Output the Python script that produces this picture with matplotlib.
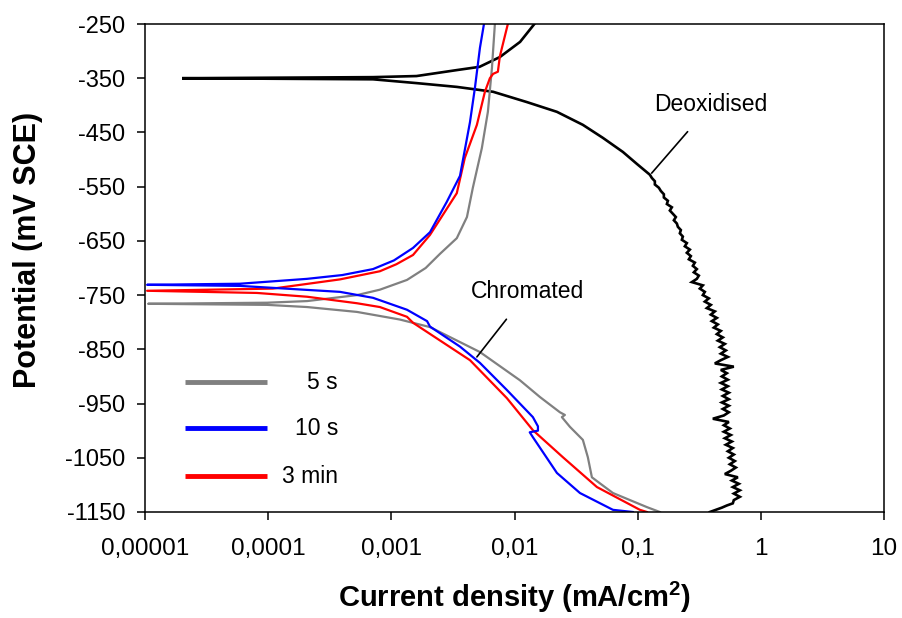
import matplotlib
matplotlib.use("Agg")
import matplotlib.pyplot as plt

plt.rcParams['font.family'] = ['Liberation Sans', 'DejaVu Sans']
plt.rcParams['mathtext.fontset'] = 'custom'
plt.rcParams['mathtext.rm'] = 'Liberation Sans'
plt.rcParams['mathtext.bf'] = 'Liberation Sans:bold'
plt.rcParams['axes.unicode_minus'] = False

# ---------------- data (current density mA/cm2, potential mV SCE) ----------------
# Deoxidised (black): anodic branch top -> corrosion tip -> cathodic branch
deox_current = [0.0145, 0.0111, 0.0076, 0.0052, 0.0034, 0.0016, 0.00071, 0.00002,
                0.00071, 0.0016, 0.0034, 0.0067, 0.0126, 0.0221, 0.0359, 0.0522, 0.0759,
                0.0985, 0.1256,
                0.1304, 0.1379, 0.1379, 0.1486, 0.1543, 0.1632, 0.1632, 0.1759, 0.1726,
                0.1895, 0.1825, 0.1931, 0.2042, 0.1967, 0.2081, 0.2120, 0.2242, 0.2200,
                0.2327, 0.2284, 0.2508, 0.2416, 0.2652, 0.2508, 0.2703, 0.2604, 0.2912,
                0.2806, 0.3023, 0.2858, 0.3138,
                0.3023, 0.2754, 0.3382, 0.3197, 0.3510, 0.3382, 0.3783, 0.3510, 0.3927,
                0.3644, 0.4232, 0.3927, 0.4393, 0.4001, 0.4476, 0.4154, 0.4734, 0.4393,
                0.4914, 0.4476, 0.5102, 0.4646, 0.5198, 0.4734, 0.5396, 0.4734, 0.4232,
                0.6036, 0.4734, 0.5296, 0.4823, 0.5396, 0.4734, 0.5396, 0.4823, 0.5498,
                0.4914, 0.5498, 0.4823, 0.5498, 0.4914, 0.5498, 0.5007, 0.4077, 0.5498,
                0.5007, 0.5601, 0.5007, 0.5707, 0.5102, 0.5815, 0.5198, 0.5924, 0.5396,
                0.6036, 0.5498, 0.6150, 0.5601, 0.6266, 0.5707, 0.5102, 0.6505, 0.5815,
                0.6628, 0.5924, 0.6753, 0.6036, 0.6753, 0.6036, 0.5924, 0.5296, 0.4823,
                0.4312, 0.3855]
deox_potential = [-250, -283, -311, -329, -335, -346, -348, -350,
                  -352, -359, -366, -375, -394, -412, -436, -460, -486,
                  -508, -528,
                  -534, -540, -546, -552, -558, -564, -570, -576, -582,
                  -588, -594, -600, -606, -612, -618, -624, -630, -636,
                  -642, -648, -654, -660, -666, -672, -678, -684, -690,
                  -696, -702, -708, -714,
                  -720, -726, -732, -738, -744, -750, -756, -762, -768,
                  -774, -780, -786, -792, -798, -804, -810, -816, -822,
                  -828, -834, -840, -846, -852, -858, -864, -870, -876,
                  -882, -888, -894, -900, -906, -912, -918, -924, -930,
                  -936, -942, -948, -954, -960, -966, -972, -978, -984,
                  -990, -996, -1002, -1008, -1014, -1020, -1026, -1032, -1038,
                  -1044, -1050, -1056, -1062, -1068, -1074, -1080, -1086, -1092,
                  -1098, -1104, -1110, -1116, -1122, -1128, -1134, -1138, -1142,
                  -1146, -1150]

# Chromated 5 s (grey)
c5_current = [0.1514, 0.1189, 0.0630, 0.0493, 0.0425, 0.0394, 0.0359, 0.0282, 0.02424,
              0.02565, 0.02335, 0.0161, 0.01106, 0.00524, 0.00206, 0.00117, 0.000526,
              0.000207, 0.000098, 0.0000106, 0.000098, 0.000207, 0.000526, 0.000807,
              0.00134, 0.0019, 0.00248, 0.0034, 0.00411, 0.00459, 0.00543, 0.00608,
              0.00656, 0.00693]
c5_potential = [-1150, -1141, -1115, -1097, -1086, -1049, -1017, -993, -975,
                -971, -966, -938, -907, -855, -809, -795, -781,
                -772, -768, -766, -764, -761, -750, -740,
                -722, -700, -674, -645, -606, -552, -479, -412,
                -331, -250]

# Chromated 10 s (blue)
c10_current = [0.0914, 0.0630, 0.0340, 0.0221, 0.0141, 0.0133, 0.0155, 0.0155, 0.0141,
               0.00867, 0.00524, 0.00361, 0.00206, 0.00195, 0.00134, 0.00071, 0.000383,
               0.000059, 0.0000104, 0.000059, 0.000207, 0.0004, 0.00071, 0.00105, 0.0015,
               0.00206, 0.00282, 0.00361, 0.00435, 0.00477, 0.00524, 0.00565]
c10_potential = [-1150, -1146, -1115, -1078, -1012, -1003, -1000, -992, -975,
                 -925, -875, -845, -808, -798, -777, -755, -744,
                 -733, -731, -729, -720, -713, -702, -686, -663,
                 -634, -578, -530, -431, -368, -294, -250]

# Chromated 3 min (red)
c3_current = [0.1189, 0.1043, 0.0467, 0.02472, 0.01409, 0.00867, 0.00435, 0.0015,
              0.00134, 0.000807, 0.000526, 0.000207, 0.000081, 0.0000104, 0.000109,
              0.000383, 0.000807, 0.0011, 0.0015, 0.00206, 0.0034, 0.00395, 0.00495,
              0.00575, 0.00631, 0.0067, 0.00733, 0.0076, 0.00883]
c3_potential = [-1150, -1146, -1104, -1049, -999, -940, -870, -801,
                -790, -772, -765, -753, -746, -742, -738,
                -721, -706, -693, -676, -639, -562, -497, -436,
                -375, -350, -342, -338, -310, -250]

series_labels = ['5 s', '10 s', '3 min']
series_colors = ['#808080', '#0000FF', '#FF0000']

x_ticks = [1e-5, 1e-4, 1e-3, 1e-2, 1e-1, 1, 10]
x_tick_labels = ['0,00001', '0,0001', '0,001', '0,01', '0,1', '1', '10']
y_ticks = [-250, -350, -450, -550, -650, -750, -850, -950, -1050, -1150]

# ---------------- figure ----------------
fig = plt.figure(figsize=(9.02, 6.18), dpi=100)
ax = fig.add_axes([145/902, 1-512/618, 739/902, 488/618])

ax.plot(deox_current, deox_potential, color='black', lw=1.9, solid_joinstyle='miter')
ax.plot(c5_current, c5_potential, color=series_colors[0], lw=1.6)
ax.plot(c3_current, c3_potential, color=series_colors[2], lw=1.6)
ax.plot(c10_current, c10_potential, color=series_colors[1], lw=1.6)

ax.set_xscale('log')
ax.set_xlim(1e-5, 10)
ax.set_ylim(-1150, -250)
ax.set_xticks(x_ticks)
ax.set_xticklabels(x_tick_labels)
ax.minorticks_off()
ax.set_yticks(y_ticks)
ax.tick_params(axis='y', direction='out', length=6, width=1.1, pad=8, labelsize=17)
ax.tick_params(axis='x', direction='out', length=6, width=1.1, pad=13, labelsize=17.5)
for s in ax.spines.values():
    s.set_linewidth(1.1)

ax.set_xlabel(r'Current density (mA/cm$^{\mathbf{2}}$)', fontsize=21, fontweight='bold', labelpad=14)
fig.text(28/902, 1-250/618, 'Potential (mV SCE)', rotation=90, fontsize=22,
         fontweight='bold', ha='center', va='center')

# legend (manual, drawn in axes coordinates)
leg_y = [1-(382-24)/488, 1-(428-24)/488, 1-(476-24)/488]
for lab, col, yy in zip(series_labels, series_colors, leg_y):
    ax.plot([(185-145)/739, (267-145)/739], [yy, yy], color=col, lw=3.5,
            transform=ax.transAxes, solid_capstyle='butt')
    ax.text((338-145)/739, yy, lab, transform=ax.transAxes, fontsize=16.5,
            ha='right', va='center')

# annotations
ax.annotate('Deoxidised', xy=(0.130, -525), xytext=(0.393, -399),
            fontsize=16.5, ha='center', va='center',
            arrowprops=dict(arrowstyle='-', color='black', lw=1.2, shrinkA=12, shrinkB=0))
ax.annotate('Chromated', xy=(0.00495, -864), xytext=(0.01285, -744),
            fontsize=16.5, ha='center', va='center',
            arrowprops=dict(arrowstyle='-', color='black', lw=1.2, shrinkA=12, shrinkB=0))

fig.savefig('out.png', dpi=100)
